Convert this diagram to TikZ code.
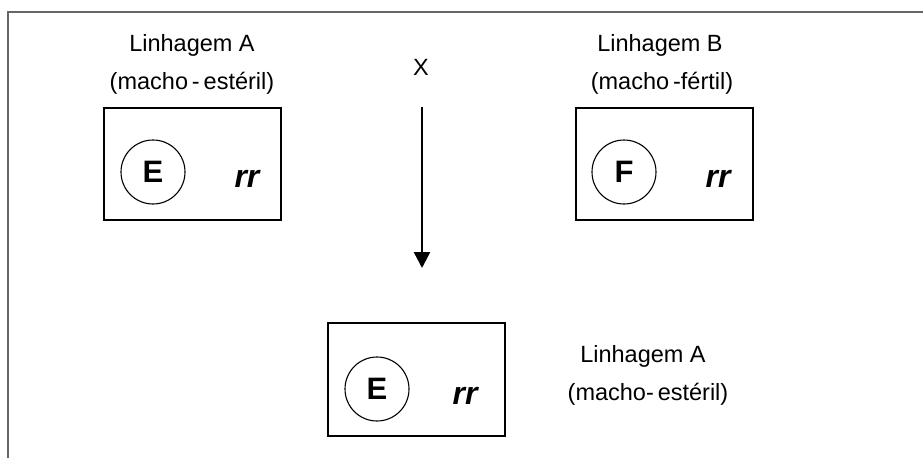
\documentclass[tikz,border=0pt]{standalone}
\usepackage{fontspec}
\setmainfont{Liberation Sans}
\usetikzlibrary{arrows.meta}
\begin{document}
\begin{tikzpicture}[x=1pt,y=-1pt,
  framerule/.style={draw=black!60,line width=1.5pt},
  linebox/.style={draw=black,line width=1.5pt},
  allele/.style={draw=black,line width=1.1pt,circle,minimum size=64pt,inner sep=0pt,
    font=\fontsize{31}{31}\selectfont\bfseries},
  genotype/.style={font=\fontsize{32}{32}\selectfont\bfseries\itshape},
  caption/.style={font=\fontsize{23.5}{23.5}\selectfont,align=center}]
  \useasboundingbox (0,0) rectangle (923,458);
  % open frame: top and left edges only
  \draw[framerule] (923,12) -- (8,12) -- (8,458);

  % parent line A
  \node[linebox,minimum width=177pt,minimum height=112pt,inner sep=0pt] (boxA) at (192.5,164) {};
  \node[allele] (eA) at (153,172) {E};
  \node[genotype] (rA) at (247,179) {rr};
  \node[caption] (tA1) at (192,45) {Linhagem A};
  \node[caption] (tA2) at (192,83) {(macho\,-\,estéril)};

  % parent line B
  \node[linebox,minimum width=177pt,minimum height=112pt,inner sep=0pt] (boxB) at (664.5,164) {};
  \node[allele] (fB) at (624,172) {F};
  \node[genotype] (rB) at (718,179) {rr};
  \node[caption] (tB1) at (660,45) {Linhagem B};
  \node[caption] (tB2) at (662,83) {(macho\,-fértil)};

  % cross symbol and arrow
  \node[caption] (cross) at (421,67) {X};
  \coordinate (arrS) at (422,107);
  \coordinate (arrE) at (422,268);
  \draw[line width=2.5pt,-{Triangle[length=16pt,width=16pt]}] (arrS) -- (arrE);

  % offspring
  \node[linebox,minimum width=177pt,minimum height=113pt,inner sep=0pt] (boxC) at (416.5,379.5) {};
  \node[allele] (eC) at (377,389) {E};
  \node[genotype] (rC) at (465,396) {rr};
  \node[caption] (tC1) at (643,356) {Linhagem A};
  \node[caption] (tC2) at (648,394) {(macho-\,estéril)};
\end{tikzpicture}
\end{document}
